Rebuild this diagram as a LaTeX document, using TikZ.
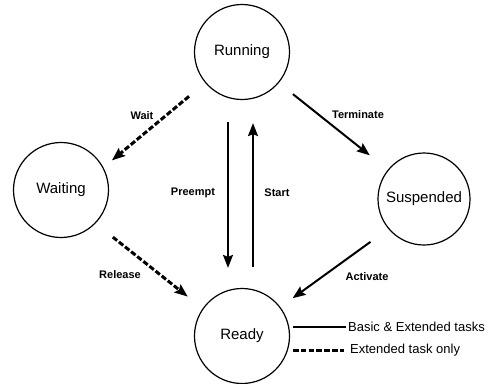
\documentclass[tikz,border=0pt]{standalone}
\usepackage{fontspec}
\setmainfont{Liberation Sans}
\usetikzlibrary{arrows.meta}
\begin{document}
\begin{tikzpicture}[x=1pt,y=-1pt,
  state/.style={circle,draw,line width=1.2pt,minimum size=95pt,inner sep=0pt,
    font=\fontsize{15}{15}\selectfont},
  trans/.style={line width=2pt,-{Stealth[length=13pt,width=10pt,inset=2pt]}},
  extonly/.style={trans,line width=3pt,dash pattern=on 5.5pt off 2.3pt},
  lbl/.style={font=\bfseries\fontsize{11}{11}\selectfont,inner sep=0pt},
  legtext/.style={font=\fontsize{13}{13}\selectfont,inner sep=0pt,anchor=west}]
\useasboundingbox (0,0) rectangle (487,383);

% task states
\node[state] (run) at (242,52) {Running};
\node[state] (wait) at (61,190) {Waiting};
\node[state,minimum size=92pt] (susp) at (424,199) {Suspended};
\node[state] (rdy) at (242,336) {Ready};

% transitions
\draw[extonly,shorten <=21pt,shorten >=11pt] (run.220) -- (wait.28);
\draw[trans,shorten <=18pt,shorten >=23pt] (run.320) -- (susp.141);
\draw[extonly,shorten <=22pt,shorten >=19pt] (wait.316) -- (rdy.145);
\draw[trans,shorten <=22pt,shorten >=15pt] (susp.220) -- (rdy.37);
\draw[trans,shorten <=22pt,shorten >=20pt] ([xshift=-14pt]run.south) -- ([xshift=-14pt]rdy.north);
\draw[trans,shorten <=21pt,shorten >=23pt] ([xshift=11pt]rdy.north) -- ([xshift=11pt]run.south);

% transition labels
\node[lbl] (lwait) at (142,116) {Wait};
\node[lbl] (lterm) at (358,115) {Terminate};
\node[lbl] (lpre) at (193,193) {Preempt};
\node[lbl] (lstart) at (277,193) {Start};
\node[lbl] (lrel) at (120,275) {Release};
\node[lbl] (lact) at (367,277) {Activate};

% legend
\coordinate (sa) at (293,327);
\coordinate (sb) at (346,327);
\coordinate (da) at (293,350);
\coordinate (db) at (344,350);
\draw[line width=2pt] (sa) -- (sb);
\draw[line width=3pt,dash pattern=on 5.5pt off 2.3pt] (da) -- (db);
\node[legtext] (lbasic) at (348,327) {Basic \& Extended tasks};
\node[legtext] (lext) at (350,350) {Extended task only};
\end{tikzpicture}
\end{document}
